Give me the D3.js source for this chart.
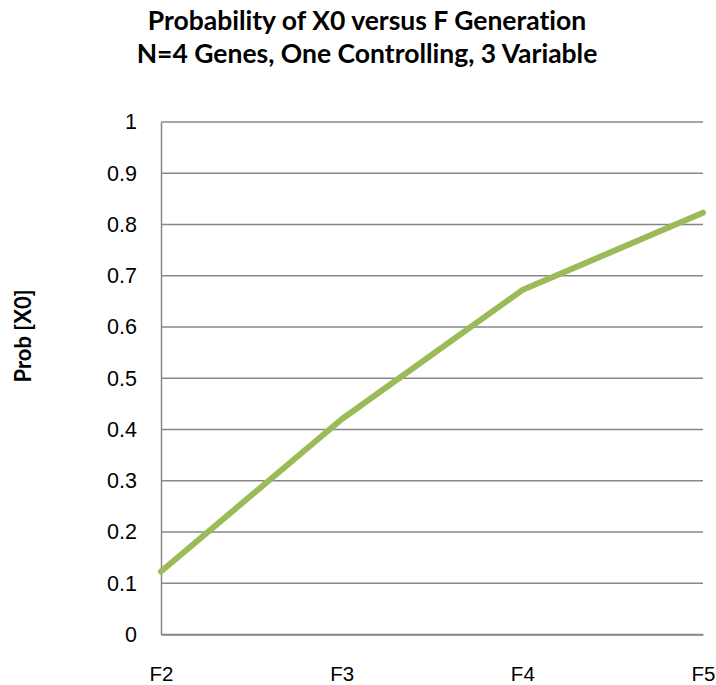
<!DOCTYPE html>
<html>
<head>
<meta charset="utf-8">
<script src="https://cdn.jsdelivr.net/npm/d3@7"></script>
<style>
  html, body { margin: 0; padding: 0; background: #fff; }
  svg { display: block; font-family: Lato, "Open Sans", sans-serif; font-variant-ligatures: none; }
</style>
</head>
<body>
<svg id="chart" width="716" height="685"></svg>
<script>
// Generations on the x axis and the probability of X0 at each one
const generations = ["F2", "F3", "F4", "F5"];
const probX0 = [0.123, 0.42, 0.672, 0.823];
const yTicks = [0, 0.1, 0.2, 0.3, 0.4, 0.5, 0.6, 0.7, 0.8, 0.9, 1];
const titleLines = ["Probability of X0 versus F Generation", "N=4 Genes, One Controlling, 3 Variable"];
const yAxisTitle = "Prob [X0]";

const svg = d3.select("#chart");
const margin = { left: 161, right: 13, top: 122, bottom: 50.5 };
const W = 716, H = 685;

const x = d3.scalePoint().domain(generations).range([margin.left, W - margin.right]);
const y = d3.scaleLinear().domain([0, 1]).range([H - margin.bottom, margin.top]);

// horizontal gridlines
svg.append("g")
  .selectAll("line")
  .data(yTicks)
  .join("line")
  .attr("x1", margin.left)
  .attr("x2", W - margin.right)
  .attr("y1", d => y(d))
  .attr("y2", d => y(d))
  .attr("stroke", "#878787")
  .attr("stroke-width", 1.5);

// y axis
const yAxis = svg.append("g")
  .attr("transform", `translate(${margin.left},0)`)
  .call(d3.axisLeft(y).tickValues(yTicks).tickSize(0).tickPadding(24).tickFormat(d3.format("~g")));
yAxis.select(".domain").attr("stroke", "#878787").attr("stroke-width", 1.5);
yAxis.selectAll("text").attr("font-size", 21.5).attr("fill", "#000");

// x axis
const xAxis = svg.append("g")
  .attr("transform", `translate(0,${y(0)})`)
  .call(d3.axisBottom(x).tickSize(0).tickPadding(0));
xAxis.select(".domain").attr("stroke", "#878787").attr("stroke-width", 1.5);
xAxis.selectAll("text")
  .attr("font-size", 20.5)
  .attr("fill", "#000")
  .attr("dy", null)
  .attr("y", 46);

// data line
const line = d3.line().x((d, i) => x(generations[i])).y(d => y(d));
svg.append("path")
  .datum(probX0)
  .attr("d", line)
  .attr("fill", "none")
  .attr("stroke", "#9BBB59")
  .attr("stroke-width", 6)
  .attr("stroke-linejoin", "round")
  .attr("stroke-linecap", "round");

// chart title
svg.append("g")
  .selectAll("text")
  .data(titleLines)
  .join("text")
  .attr("x", 367)
  .attr("y", (d, i) => 30 + i * 33)
  .attr("text-anchor", "middle")
  .attr("font-size", 26.5)
  .attr("font-weight", "bold")
  .text(d => d);

// y axis title
svg.append("text")
  .attr("transform", "translate(31,336) rotate(-90)")
  .attr("text-anchor", "middle")
  .attr("font-size", 22)
  .attr("font-weight", "bold")
  .text(yAxisTitle);
</script>
</body>
</html>
